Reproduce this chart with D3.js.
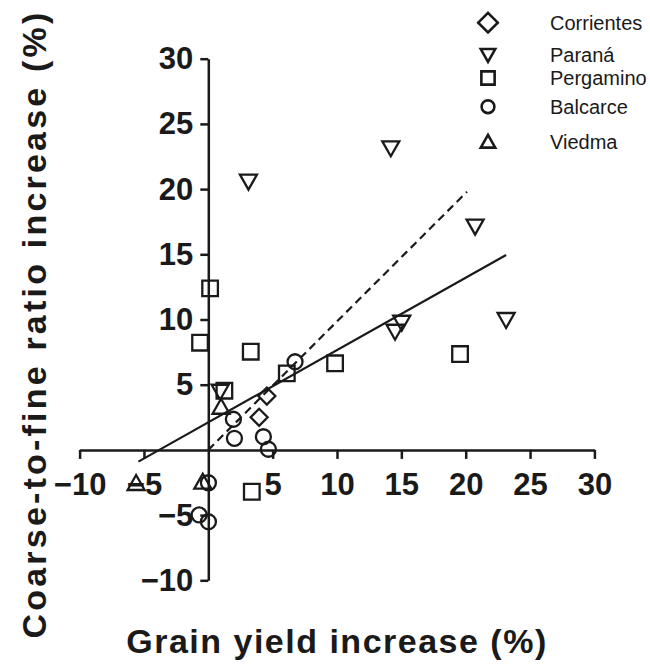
<!DOCTYPE html>
<html>
<head>
<meta charset="utf-8">
<script src="https://cdn.jsdelivr.net/npm/d3@7"></script>
<style>
  body { margin: 0; background: #fff; }
  text { font-family: "Liberation Sans", Arial, sans-serif; fill: #1a1a1a; }
</style>
</head>
<body>
<div id="chart"></div>
<script>
// values (grain yield increase %, coarse-to-fine ratio increase %)
const sites = ["Corrientes", "Paraná", "Pergamino", "Balcarce", "Viedma"]
const corrientes = [[4.55, 4.13], [3.95, 2.5]]
const parana = [[3.12, 20.57], [14.18, 23.13], [20.73, 17.12], [23.14, 9.96], [15.03, 9.75], [14.51, 9.06], [0.92, 4.46]]
const pergamino = [[0.14, 12.39], [-0.64, 8.22], [3.3, 7.53], [1.25, 4.54], [6.1, 5.87], [9.85, 6.64], [19.56, 7.35], [3.38, -3.21]]
const balcarce = [[6.74, 6.76], [1.95, 2.35], [2.03, 0.89], [4.28, 1.01], [4.67, 0.05], [0.01, -2.52], [0.01, -5.51], [-0.71, -4.99]]
const viedma = [[-5.61, -2.54], [-0.43, -2.44], [0.99, 3.31]]
// regression lines (end points)
const fitSolid = [[-5.43, -0.9], [23.14, 14.95]]
const fitDashed = [[0, 0], [20.1, 19.8]]
const xTicks = [-10, -5, 5, 10, 15, 20, 25, 30]
const yTicks = [-10, -5, 5, 10, 15, 20, 25, 30]

const series = [
  {name: sites[0], shape: "diamond", values: corrientes},
  {name: sites[1], shape: "down", values: parana},
  {name: sites[2], shape: "square", values: pergamino},
  {name: sites[3], shape: "circle", values: balcarce},
  {name: sites[4], shape: "up", values: viedma}
]

drawChart("#chart")

function drawChart(id){
  const canvas = {width: 650, height: 664}
  d3.select(id).html("")
  const svg = d3.select(id).append("svg")
    .attr("width", canvas.width).attr("height", canvas.height)

  const x = d3.scaleLinear().domain([-10, 30]).range([79.6, 594.4])
  const y = d3.scaleLinear().domain([-10, 30]).range([580.3, 58.7])

  drawAxes(svg, x, y)
  drawFits(svg, x, y)
  drawPoints(svg, x, y)
  drawLegend(svg)
  drawTitles(svg)
}

function shapePath(shape, k){
  if(shape === "diamond") return `M0,${-8.5*k}L${8.5*k},0L0,${8.5*k}L${-8.5*k},0Z`
  if(shape === "square") return `M${-7.8*k},${-7.8*k}h${15.6*k}v${15.6*k}h${-15.6*k}Z`
  if(shape === "up") return `M0,${-8*k}L${8.5*k},${7*k}L${-8.5*k},${7*k}Z`
  if(shape === "down") return `M${-8.5*k},${-7*k}L${8.5*k},${-7*k}L0,${8*k}Z`
  const r = 7.5*k
  return `M${r},0A${r},${r} 0 1,1 ${-r},0A${r},${r} 0 1,1 ${r},0Z`
}

function drawAxes(svg, x, y){
  const xAxis = svg.append("g").attr("transform", `translate(0,${y(0)})`)
    .call(d3.axisBottom(x).tickValues(xTicks).tickSize(9).tickSizeOuter(0).tickPadding(14))
  const yAxis = svg.append("g").attr("transform", `translate(${x(0)},0)`)
    .call(d3.axisLeft(y).tickValues(yTicks).tickSize(8).tickSizeOuter(0).tickPadding(7))

  ;[xAxis, yAxis].forEach(a => {
    a.select(".domain").attr("stroke", "#1a1a1a").attr("stroke-width", 2.5)
    a.selectAll(".tick line").attr("stroke", "#1a1a1a").attr("stroke-width", 2.5)
    a.selectAll(".tick text").attr("font-size", "31px").attr("font-weight", "bold")
      .attr("font-family", "Liberation Sans, Arial, sans-serif").attr("fill", "#1a1a1a")
  })
}

function drawFits(svg, x, y){
  const line = d3.line().x(d => x(d[0])).y(d => y(d[1]))
  svg.append("path").attr("d", line(fitSolid)).attr("fill", "none")
    .attr("stroke", "#1a1a1a").attr("stroke-width", 2.2)
  svg.append("path").attr("d", line(fitDashed)).attr("fill", "none")
    .attr("stroke", "#1a1a1a").attr("stroke-width", 2.2).attr("stroke-dasharray", "8 5")
}

function drawPoints(svg, x, y){
  const groups = svg.selectAll(".site").data(series).enter()
    .append("g").attr("class", "site")

  groups.selectAll("path").data(s => s.values.map(v => ({shape: s.shape, v: v}))).enter()
    .append("path")
    .attr("transform", d => `translate(${x(d.v[0])},${y(d.v[1])})`)
    .attr("d", d => shapePath(d.shape, 1))
    .attr("fill", "none").attr("stroke", "#1a1a1a").attr("stroke-width", 2.3)
}

function drawLegend(svg){
  const rowsY = [22.7, 55, 78, 106.7, 141.7]
  const rows = svg.selectAll(".legend-row").data(series).enter()
    .append("g").attr("class", "legend-row")
    .attr("transform", (d, j) => `translate(488,${rowsY[j]})`)

  rows.append("path").attr("d", d => shapePath(d.shape, d.shape === "diamond" ? 1.15 : 0.85))
    .attr("fill", "none").attr("stroke", "#1a1a1a").attr("stroke-width", 2.6)
  rows.append("text").attr("x", 62).attr("dy", "0.36em").attr("font-size", "20px")
    .text(d => d.name)
}

function drawTitles(svg){
  svg.append("text").attr("x", 337).attr("y", 653).attr("text-anchor", "middle")
    .attr("font-size", "34px").attr("font-weight", "bold").attr("letter-spacing", "1.5px")
    .text("Grain yield increase (%)")

  svg.append("text").attr("transform", "translate(46,324) rotate(-90)").attr("text-anchor", "middle")
    .attr("font-size", "34px").attr("font-weight", "bold").attr("letter-spacing", "3.2px")
    .text("Coarse-to-fine ratio increase (%)")
}
</script>
</body>
</html>
